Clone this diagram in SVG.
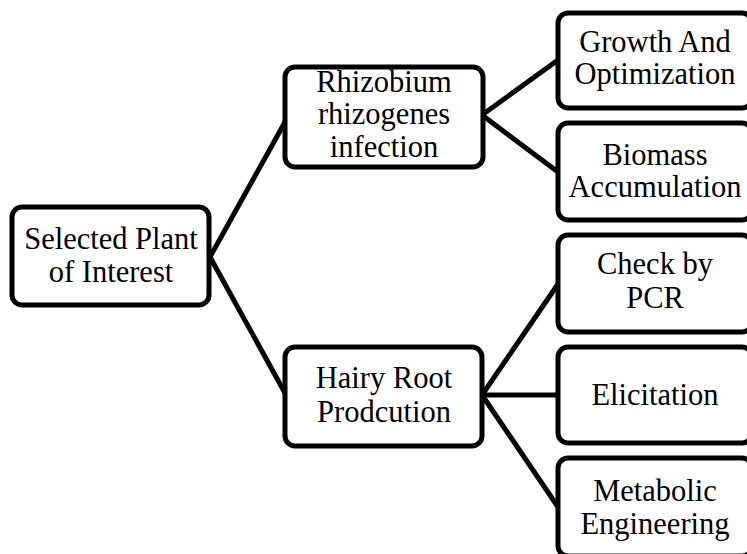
<svg xmlns="http://www.w3.org/2000/svg" width="747" height="554" viewBox="0 0 747 554">
<style>
.box{fill:#fff;stroke:#000;stroke-width:5}
.t{font-family:"Liberation Serif","Times New Roman",serif;font-size:30.5px;fill:#000;text-anchor:middle}
.c{stroke:#000;stroke-width:5;fill:none;stroke-linecap:round}
</style>
<rect width="747" height="554" fill="#fff"/>
<g id="connectors">
<line class="c" x1="210" y1="257" x2="285" y2="122"/>
<line class="c" x1="210" y1="257" x2="285" y2="393"/>
<line class="c" x1="482" y1="115" x2="558" y2="60"/>
<line class="c" x1="482" y1="115" x2="558" y2="172"/>
<line class="c" x1="482" y1="395" x2="558" y2="284"/>
<line class="c" x1="482" y1="395" x2="558" y2="395"/>
<line class="c" x1="482" y1="395" x2="558" y2="507"/>
</g>
<g id="selected">
<rect class="box" x="12" y="207" width="197" height="98" rx="10"/>
<text class="t" x="111" y="249">Selected Plant</text>
<text class="t" x="111" y="282">of Interest</text>
</g>
<g id="rhizobium">
<rect class="box" x="285" y="67" width="198" height="100" rx="10"/>
<text class="t" x="384" y="92">Rhizobium</text>
<text class="t" x="384" y="124">rhizogenes</text>
<text class="t" x="384" y="157">infection</text>
</g>
<g id="hairy">
<rect class="box" x="285" y="347" width="197" height="99" rx="10"/>
<text class="t" x="384" y="388">Hairy Root</text>
<text class="t" x="384" y="422">Prodcution</text>
</g>
<g id="growth">
<rect class="box" x="558" y="13" width="194" height="95" rx="10"/>
<text class="t" x="655" y="52">Growth And</text>
<text class="t" x="655" y="84">Optimization</text>
</g>
<g id="biomass">
<rect class="box" x="558" y="123" width="194" height="97" rx="10"/>
<text class="t" x="655" y="165">Biomass</text>
<text class="t" x="655" y="197">Accumulation</text>
</g>
<g id="pcr">
<rect class="box" x="558" y="235" width="194" height="97" rx="10"/>
<text class="t" x="655" y="274">Check by</text>
<text class="t" x="655" y="308">PCR</text>
</g>
<g id="elicitation">
<rect class="box" x="558" y="347" width="194" height="96" rx="10"/>
<text class="t" x="655" y="405">Elicitation</text>
</g>
<g id="metabolic">
<rect class="box" x="558" y="458" width="194" height="98" rx="10"/>
<text class="t" x="655" y="501">Metabolic</text>
<text class="t" x="655" y="534">Engineering</text>
</g>
</svg>
